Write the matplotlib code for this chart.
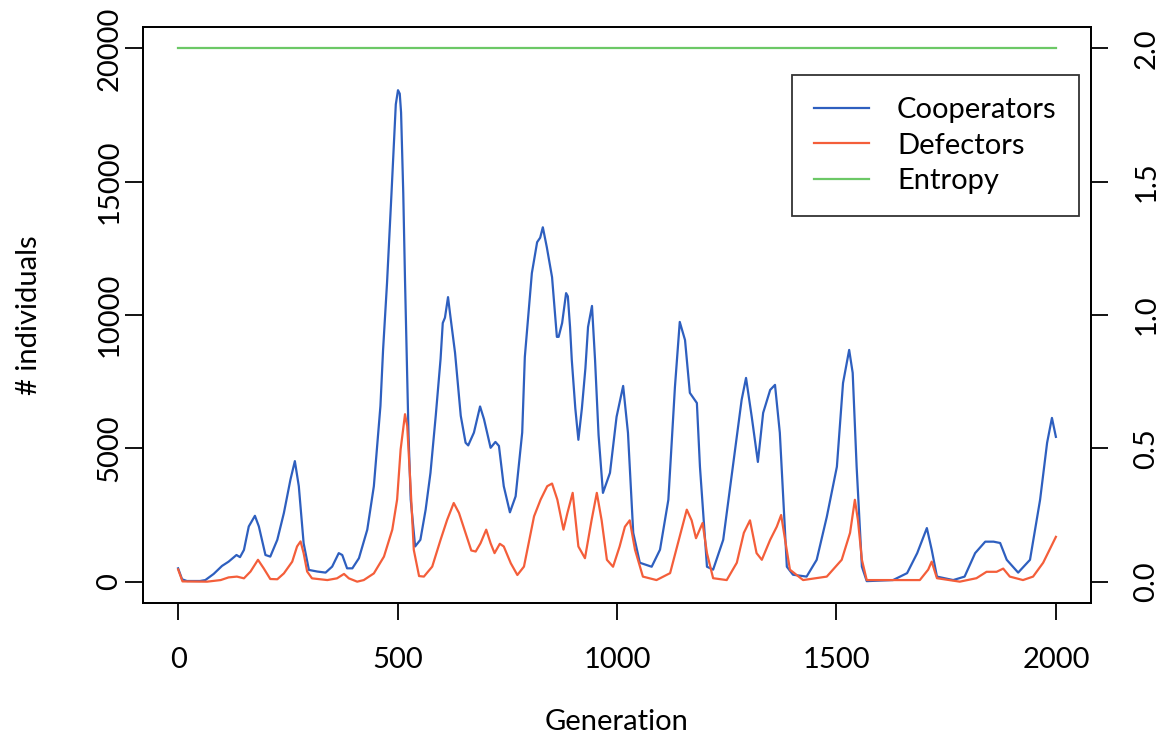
import matplotlib
matplotlib.use("Agg")
import matplotlib.pyplot as plt

plt.rcParams['font.family'] = ['Lato', 'DejaVu Sans']

# ---- data ----
coop_gen = [0, 9, 20, 50, 62, 81, 100, 115, 133, 141, 150, 161, 175, 184, 199, 210, 226, 241, 256, 266,
            275, 286, 298, 317, 336, 351, 366, 374, 385, 397, 412, 431, 446, 461, 467, 476, 486, 496,
            501, 505, 508, 513, 517, 521, 525, 530, 540, 552, 564, 575, 587, 598, 603, 608, 615, 620, 631, 644,
            655, 661, 674, 688, 697, 712, 723, 731, 742, 756, 769, 784, 790, 806, 818, 825, 831, 840, 852,
            863, 867, 875, 884, 888, 893, 897, 905, 912, 920, 928, 934, 943, 950, 958, 968, 984, 999, 1014,
            1025, 1037, 1052, 1079, 1098, 1117, 1132, 1143, 1155, 1166, 1182, 1189, 1205, 1219, 1242, 1264,
            1284, 1294, 1307, 1321, 1333, 1349, 1360, 1371, 1387, 1401, 1432, 1455, 1478, 1501, 1515, 1529,
            1537, 1546, 1558, 1569, 1629, 1661, 1684, 1706, 1717, 1729, 1766, 1792, 1816, 1839, 1858, 1873,
            1888, 1914, 1941, 1964, 1980, 1991, 2000]
coop_val = [500, 90, 25, 25, 60, 290, 590, 750, 1000, 920, 1190, 2070, 2470, 2070, 1000, 940, 1570, 2575,
            3830, 4520, 3580, 1440, 440, 380, 340, 565, 1070, 1000, 500, 500, 880, 1950, 3580, 6590, 8690,
            11200, 14500, 17900, 18430, 18300, 17600, 14570, 11300, 8430, 5500, 3080, 1320, 1570, 2700,
            4080, 6220, 8350, 9700, 9900, 10670, 10000, 8580, 6220, 5210, 5110, 5590, 6570, 6090, 5020,
            5240, 5090, 3580, 2600, 3200, 5590, 8430, 11570, 12730, 12900, 13290, 12550, 11420, 9180, 9180,
            9700, 10820, 10700, 9550, 8310, 6500, 5320, 6500, 8000, 9550, 10340, 8310, 5500, 3330, 4080,
            6180, 7340, 5580, 1830, 710, 560, 1200, 3070, 7300, 9740, 9060, 7080, 6700, 4310, 560, 450,
            1570, 4310, 6820, 7640, 6180, 4490, 6330, 7190, 7380, 5580, 560, 260, 190, 820, 2430, 4310,
            7450, 8690, 7830, 4310, 560, 20, 60, 320, 1070, 2010, 1200, 190, 60, 190, 1070, 1500, 1500,
            1450, 820, 340, 820, 3070, 5210, 6140, 5430]

def_gen = [0, 10, 66, 97, 115, 134, 150, 165, 182, 195, 210, 226, 241, 260, 271, 279, 286, 294, 305, 340,
           362, 378, 389, 408, 423, 446, 469, 488, 499, 507, 517, 522, 530, 537, 549, 560, 579, 598, 613,
           628, 640, 655, 668, 678, 689, 702, 712, 721, 733, 742, 758, 773, 788, 811, 826, 841, 852, 864,
           878, 887, 899, 912, 927, 942, 954, 965, 977, 991, 1006, 1018, 1029, 1041, 1059, 1090, 1121,
           1139, 1159, 1170, 1180, 1195, 1205, 1219, 1250, 1273, 1289, 1303, 1318, 1330, 1349, 1364, 1374,
           1383, 1394, 1424, 1478, 1512, 1531, 1542, 1549, 1558, 1569, 1690, 1709, 1717, 1729, 1781, 1819,
           1842, 1865, 1880, 1895, 1925, 1948, 1971, 2000]
def_val = [460, 10, 0, 60, 160, 190, 125, 380, 820, 500, 100, 90, 310, 750, 1320, 1510, 1070, 380, 125, 60,
           125, 290, 125, 0, 60, 310, 940, 1950, 3080, 4960, 6280, 5840, 3450, 1190, 210, 190, 565, 1570,
           2320, 2950, 2575, 1820, 1170, 1130, 1440, 1950, 1440, 1070, 1420, 1320, 690, 250, 565, 2450,
           3080, 3580, 3680, 3080, 1950, 2575, 3330, 1320, 880, 2300, 3330, 2300, 820, 560, 1320, 2060,
           2300, 1200, 190, 60, 320, 1450, 2700, 2300, 1630, 2200, 1070, 130, 60, 710, 1830, 2300, 1070,
           820, 1570, 2060, 2500, 1570, 450, 60, 190, 820, 1830, 3070, 2300, 820, 60, 60, 450, 750, 130, 0,
           130, 370, 370, 490, 190, 60, 190, 710, 1680]

entropy_gen = [0, 2000]
entropy_val = [2.0, 2.0]

x_ticks = [0, 500, 1000, 1500, 2000]
y_ticks = [0, 5000, 10000, 15000, 20000]
y2_ticks = [0.0, 0.5, 1.0, 1.5, 2.0]
y2_labels = ["0.0", "0.5", "1.0", "1.5", "2.0"]
series_names = ["Cooperators", "Defectors", "Entropy"]

c_blue = '#2E5FBF'
c_red = '#F45E3A'
c_green = '#6CC866'

W, H = 1158, 743
fig = plt.figure(figsize=(W / 100, H / 100), dpi=100)
fig.patch.set_facecolor('white')
ax = fig.add_axes([143 / W, 1 - 603 / H, (1091 - 143) / W, (603 - 27) / H])

l1, = ax.plot(coop_gen, coop_val, color=c_blue, lw=1.6, solid_joinstyle='round')
l2, = ax.plot(def_gen, def_val, color=c_red, lw=1.6, solid_joinstyle='round')
ax.set_xlim(-80, 2080)
ax.set_ylim(-800, 20800)
ax.set_xticks(x_ticks)
ax.set_xticklabels([str(t) for t in x_ticks])
ax.set_yticks(y_ticks)
ax.set_yticklabels([str(t) for t in y_ticks], rotation=90, va='center')

ax2 = ax.twinx()
l3, = ax2.plot(entropy_gen, entropy_val, color=c_green, lw=1.6)
ax2.set_ylim(-0.08, 2.08)
ax2.set_yticks(y2_ticks)
ax2.set_yticklabels(y2_labels, rotation=90, va='center')

fs = 21
ax.tick_params(axis='x', direction='out', length=12.5, width=1.3, labelsize=fs, pad=19)
ax.tick_params(axis='y', direction='out', length=13, width=1.3, labelsize=fs, pad=2)
ax2.tick_params(axis='y', direction='out', length=12.5, width=1.3, labelsize=fs, pad=18)
for a in (ax, ax2):
    for s in a.spines.values():
        s.set_linewidth(1.3)
        s.set_color('black')

fig.text(617 / W, 1 - 722 / H, "Generation", ha='center', va='center', fontsize=fs)
fig.text(29 / W, 1 - 315 / H, "# individuals", ha='center', va='center', rotation=90, fontsize=fs)

leg = ax2.legend([l1, l2, l3], series_names, loc='upper left',
                 bbox_to_anchor=((792 - 143) / (1091 - 143), (603 - 75) / (603 - 27)),
                 frameon=True, fancybox=False, fontsize=fs, handlelength=1.9,
                 handletextpad=0.95, labelspacing=0.33, borderpad=0.75, borderaxespad=0)
leg.get_frame().set_edgecolor('black')
leg.get_frame().set_linewidth(1.3)

fig.savefig("out.png", dpi=100, facecolor='white')
